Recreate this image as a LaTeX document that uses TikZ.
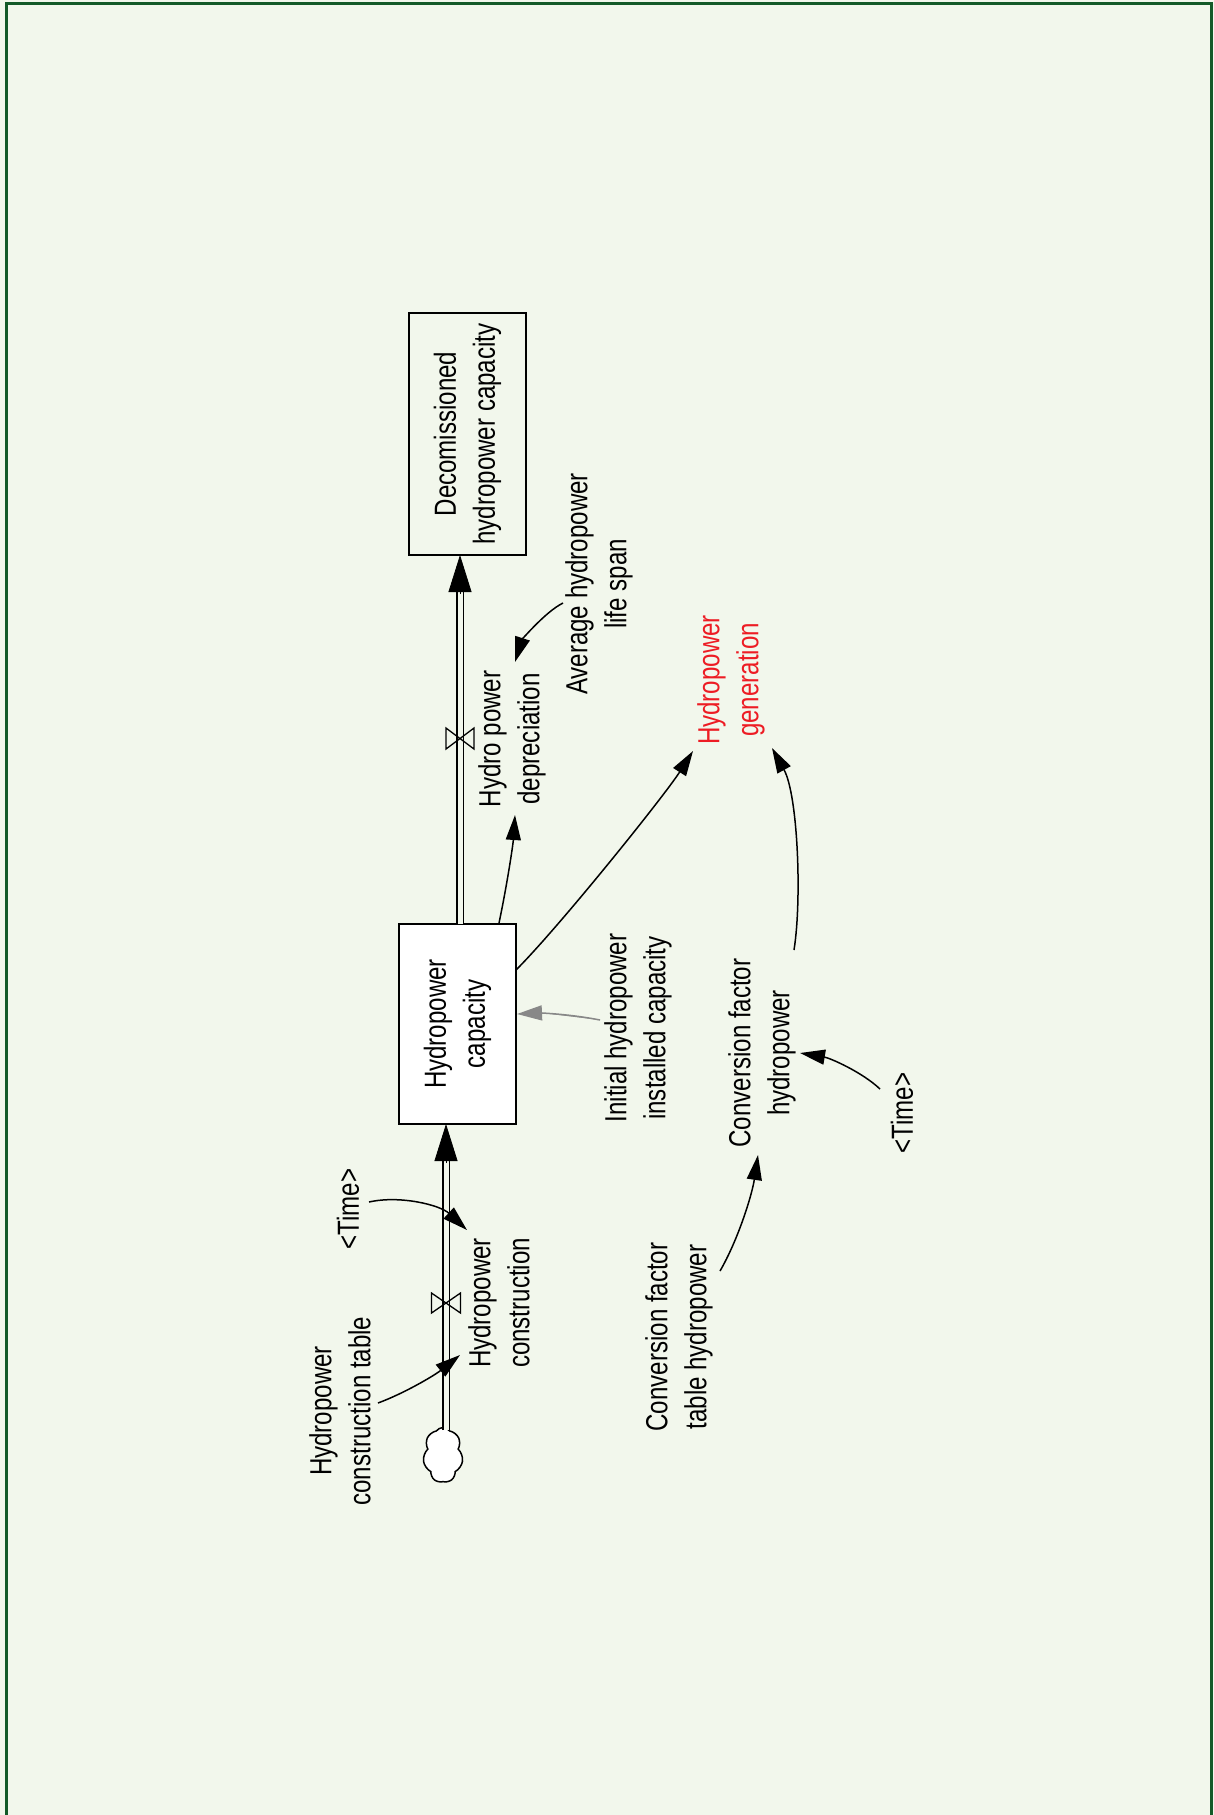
\documentclass[tikz,border=0pt]{standalone}
\usepackage{fontspec}
\setmainfont{Liberation Sans}[FakeStretch=0.79]
\usetikzlibrary{arrows.meta,calc,shapes.symbols}
\definecolor{bg}{RGB}{242,247,236}
\definecolor{framegreen}{RGB}{20,90,40}
\definecolor{genred}{RGB}{237,28,36}
\definecolor{linkgrey}{RGB}{136,136,136}
\begin{document}
\begin{tikzpicture}[x=1pt,y=-1pt,
  lbl/.style={rotate=90, align=center, font=\fontsize{30.5}{39}\selectfont, inner sep=0pt},
  stock/.style={lbl, draw, line width=1.5pt},
  link/.style={line width=1.5pt, -{Triangle[length=25pt,width=15pt]}},
  greylink/.style={link, draw=linkgrey, fill=linkgrey},
  pipe/.style={draw=black, double=bg, double distance=5pt, line width=1.8pt},
  pipetip/.style={line width=0.8pt, -{Triangle[length=37pt,width=23pt]}},
  valve/.style={line width=1.3pt},
]
\useasboundingbox (0,0) rectangle (1214,1815);
\fill[bg] (0,0) rectangle (1214,1815);
\draw[framegreen, line width=3pt] (6,3) rectangle (1211,1840);

% stocks
\node[stock, minimum width=242pt, minimum height=117pt] (decom) at (467.5,434) {Decomissioned\\hydropower capacity};
\node[stock, fill=white, minimum width=200pt, minimum height=117pt] (hc) at (457.5,1024) {Hydropower\\capacity};

% cloud
\node[cloud, draw, fill=white, cloud puffs=7, cloud puff arc=110, cloud ignores aspect, minimum width=40pt, minimum height=55pt, line width=1.5pt, inner sep=0pt] (cloud) at (443,1455) {};

% variables
\node[lbl] (dep) at (512,739) {Hydro power\\depreciation};
\node[lbl] (avg) at (599,584) {Average hydropower\\life span};
\node[lbl, text=genred] (gen) at (731,680) {Hydropower\\generation};
\node[lbl] (init) at (638,1028) {Initial hydropower\\installed capacity};
\node[lbl] (conv) at (762,1053) {Conversion factor\\hydropower};
\node[lbl] (time2) at (902,1113) {<Time>};
\node[lbl] (cft) at (679,1337) {Conversion factor\\table hydropower};
\node[lbl] (cons) at (499,1303) {Hydropower\\construction};
\node[lbl] (time1) at (348,1209) {<Time>};
\node[lbl] (ctab) at (340,1411) {Hydropower\\construction table};

% pipes
\draw[pipe] ($(hc)+(2.5,-100)$) -- ($(decom)+(-7.5,155)$);
\draw[pipetip] ($(decom)+(-7.5,160)$) -- ($(decom)+(-7.5,121)$);
\draw[pipe] ($(cloud)+(3,-25)$) -- ($(hc)+(-11.5,134)$);
\draw[pipetip] ($(hc)+(-11.5,139)$) -- ($(hc)+(-11.5,100)$);

% valves
\coordinate (v1) at (460,738.5);
\coordinate (v2) at (446,1303);
\draw[valve] ($(v1)+(-14,-10.5)$) -- ($(v1)+(-14,10.5)$) -- ($(v1)+(14,-10.5)$) -- ($(v1)+(14,10.5)$) -- cycle;
\draw[valve] ($(v2)+(-14.5,-10)$) -- ($(v2)+(-14.5,10)$) -- ($(v2)+(14.5,-10)$) -- ($(v2)+(14.5,10)$) -- cycle;

% links
\draw[link] ($(hc)+(41.5,-101)$) .. controls (507,885) and (513,845) .. ($(dep)+(3,76)$);
\draw[link] ($(avg)+(-36,19)$) .. controls (545,612) and (522,640) .. ($(dep)+(3,-77)$);
\draw[link] ($(hc)+(58.5,-54)$) .. controls (560,926) and (665,795) .. ($(gen)+(-38,71)$);
\draw[link] ($(conv)+(32,-103)$) .. controls (802,900) and (798,795) .. ($(gen)+(41,68)$);
\draw[greylink] ($(init)+(-38,-8)$) .. controls (570,1014) and (540,1013) .. ($(hc)+(59.5,-10)$);
\draw[link] ($(time2)+(-22,-24)$) .. controls (862,1072) and (830,1058) .. ($(conv)+(38,0)$);
\draw[link] ($(cft)+(41,-66)$) .. controls (738,1240) and (752,1195) .. ($(conv)+(-4,102)$);
\draw[link] ($(time1)+(21,-7)$) .. controls (400,1195) and (440,1205) .. ($(cons)+(-32,-73)$);
\draw[link] ($(ctab)+(38,-8)$) .. controls (405,1393) and (435,1375) .. ($(cons)+(-39,52)$);
\end{tikzpicture}
\end{document}
